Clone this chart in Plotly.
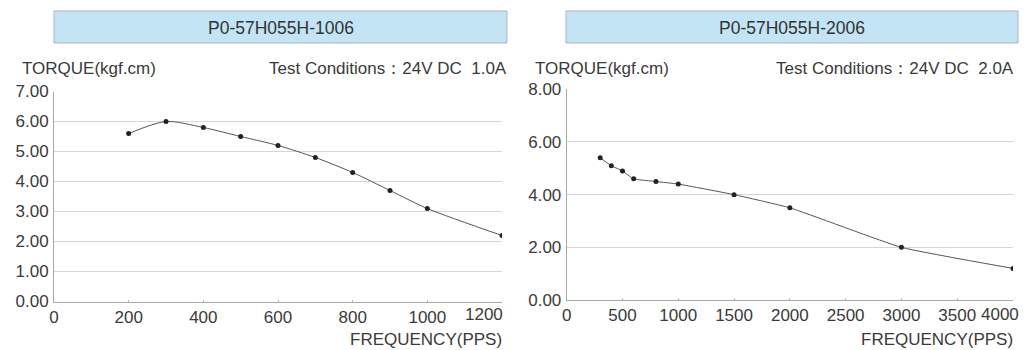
import plotly.graph_objects as go

W, H = 1027, 350

# ---- data ----
freq_1006 = [200, 300, 400, 500, 600, 700, 800, 900, 1000, 1200]
torque_1006 = [5.6, 6.0, 5.8, 5.5, 5.2, 4.8, 4.3, 3.7, 3.1, 2.2]

freq_2006 = [300, 400, 500, 600, 800, 1000, 1500, 2000, 3000, 4000]
torque_2006 = [5.4, 5.1, 4.9, 4.6, 4.5, 4.4, 4.0, 3.5, 2.0, 1.2]

titles = ["P0-57H055H-1006", "P0-57H055H-2006"]
conditions = ["Test Conditions\uff1a24V DC  1.0A", "Test Conditions\uff1a24V DC  2.0A"]
y_label = "TORQUE(kgf.cm)"
x_label = "FREQUENCY(PPS)"

x_ticks_1 = [0, 200, 400, 600, 800, 1000]
x_last_1 = 1200
x_ticks_2 = [0, 500, 1000, 1500, 2000, 2500, 3000, 3500]
x_last_2 = 4000
y_ticks_1 = [0, 1, 2, 3, 4, 5, 6, 7]
y_ticks_2 = [0, 2, 4, 6, 8]

FONT = "Liberation Sans, Arial, sans-serif"
TXT = "#3a3a3a"
FS = 17

def px_x(p):
    return p / W

def px_y(p):
    return 1 - p / H

fig = go.Figure()

fig.add_trace(go.Scatter(
    x=freq_1006, y=torque_1006, mode="lines+markers",
    line=dict(color="#555555", width=1, shape="spline", smoothing=0.8),
    marker=dict(color="#222222", size=5),
    xaxis="x", yaxis="y", showlegend=False))
fig.add_trace(go.Scatter(
    x=freq_2006, y=torque_2006, mode="lines+markers",
    line=dict(color="#555555", width=1, shape="spline", smoothing=0.4),
    marker=dict(color="#222222", size=5),
    xaxis="x2", yaxis="y2", showlegend=False))

common_x = dict(showgrid=False, showline=True, linecolor="#a8a8a8", linewidth=1,
                ticks="inside", ticklen=2, tickcolor="#bbbbbb", zeroline=False,
                ticklabelstandoff=0, automargin=False,
                tickfont=dict(family=FONT, size=FS, color=TXT), fixedrange=True)
common_y = dict(showgrid=True, gridcolor="#d6d6d6", gridwidth=1, showline=True,
                linecolor="#a8a8a8", linewidth=1, ticks="", zeroline=False,
                tickformat=".2f", ticklabelstandoff=1, automargin=False,
                tickfont=dict(family=FONT, size=FS, color=TXT), fixedrange=True)

fig.update_layout(
    width=W, height=H, margin=dict(l=0, r=0, t=0, b=0, pad=0, autoexpand=False),
    paper_bgcolor="white", plot_bgcolor="white",
    xaxis=dict(domain=[px_x(54), px_x(502)], range=[0, 1200], anchor="y",
               tickvals=x_ticks_1, **common_x),
    yaxis=dict(domain=[px_y(301.5), px_y(91.5)], range=[0, 7], anchor="x",
               tickvals=y_ticks_1, **common_y),
    xaxis2=dict(domain=[px_x(566.7), px_x(1013)], range=[0, 4000], anchor="y2",
                tickvals=x_ticks_2, **common_x),
    yaxis2=dict(domain=[px_y(300), px_y(89.3)], range=[0, 8], anchor="x2",
                tickvals=y_ticks_2, **common_y),
)

# last x tick labels, right-aligned at axis end
fig.add_annotation(x=x_last_1, xref="x", y=px_y(314), yref="paper", text=str(x_last_1),
                   showarrow=False, xanchor="right", yanchor="middle", xshift=2,
                   borderpad=0, font=dict(family=FONT, size=FS, color=TXT))
fig.add_annotation(x=x_last_2, xref="x2", y=px_y(314), yref="paper", text=str(x_last_2),
                   showarrow=False, xanchor="right", yanchor="middle", xshift=7,
                   borderpad=0, font=dict(family=FONT, size=FS, color=TXT))

boxes = [(54, 507), (566, 1018)]
y_lab_x = [20, 533]
cond_right = [509, 1016]
xlab_right = [503, 1014]
for i in range(2):
    x0, x1 = boxes[i]
    fig.add_shape(type="rect", xref="paper", yref="paper",
                  x0=px_x(x0), x1=px_x(x1), y0=px_y(43), y1=px_y(11),
                  fillcolor="#c3e4f4", line=dict(color="#a9b4ba", width=1), layer="below")
    fig.add_annotation(x=px_x((x0 + x1) / 2), y=px_y(28), xref="paper", yref="paper",
                       text=titles[i], showarrow=False, xanchor="center", yanchor="middle",
                       font=dict(family=FONT, size=17.5, color="#333333"))
    fig.add_annotation(x=px_x(y_lab_x[i]), y=px_y(68), xref="paper", yref="paper",
                       text=y_label, showarrow=False, xanchor="left", yanchor="middle",
                       font=dict(family=FONT, size=FS, color=TXT))
    fig.add_annotation(x=px_x(cond_right[i]), y=px_y(68), xref="paper", yref="paper",
                       text=conditions[i], showarrow=False, xanchor="right", yanchor="middle",
                       font=dict(family=FONT, size=FS, color=TXT))
    fig.add_annotation(x=px_x(xlab_right[i]), y=px_y(339), xref="paper", yref="paper",
                       text=x_label, showarrow=False, xanchor="right", yanchor="middle",
                       borderpad=0, font=dict(family=FONT, size=FS, color=TXT))

fig.write_html("out.html", post_script="document.body.style.margin='0';")
